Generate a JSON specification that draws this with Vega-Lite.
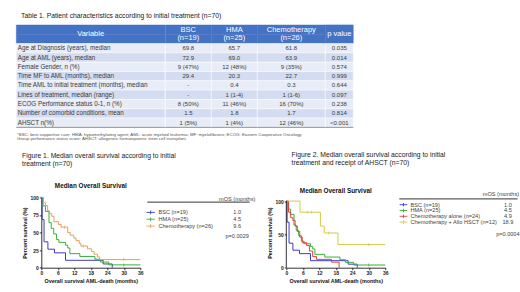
{
 "$schema": "https://vega.github.io/schema/vega-lite/v6.json",
 "background": "#ffffff",
 "padding": {"left": 15.3, "top": 12.9, "right": 0, "bottom": 0},
 "spacing": 10.5,
 "config": {"view": {"stroke": null}, "font": "Liberation Sans", "axis": {"labelOverlap": false, "labelFlush": false, "labelBound": false, "labelSeparation": 0}},
 "datasets": {
  "tbl": [
   {"k":"r1","idx":1,"variable":"Age at Diagnosis (years), median","bsc":"69.8","hma":"65.7","chemo":"61.8","p":"0.035","sig":true},
   {"k":"r2","idx":2,"variable":"Age at AML (years), median","bsc":"72.9","hma":"69.0","chemo":"63.9","p":"0.014","sig":true},
   {"k":"r3","idx":3,"variable":"Female Gender, n (%)","bsc":"9 (47%)","hma":"12 (48%)","chemo":"9 (35%)","p":"0.574","sig":false},
   {"k":"r4","idx":4,"variable":"Time MF to AML (months), median","bsc":"29.4","hma":"20.3","chemo":"22.7","p":"0.999","sig":false},
   {"k":"r5","idx":5,"variable":"Time AML to initial treatment (months), median","bsc":"-","hma":"0.4","chemo":"0.3","p":"0.644","sig":false},
   {"k":"r6","idx":6,"variable":"Lines of treatment, median (range)","bsc":"-","hma":"1 (1-4)","chemo":"1 (1-6)","p":"0.097","sig":false},
   {"k":"r7","idx":7,"variable":"ECOG Performance status 0-1, n (%)","bsc":"8 (50%)","hma":"11 (46%)","chemo":"16 (70%)","p":"0.238","sig":false},
   {"k":"r8","idx":8,"variable":"Number of comorbid conditions, mean","bsc":"1.5","hma":"1.8","chemo":"1.7","p":"0.814","sig":false},
   {"k":"r9","idx":9,"variable":"AHSCT n(%)","bsc":"1 (5%)","hma":"1 (4%)","chemo":"12 (46%)","p":"<0.001","sig":true}
  ],
  "tblhead": [{"k":"h2","kt":"h1","variable":"Variable","bsc":"BSC\n(n=19)","hma":"HMA\n(n=25)","chemo":"Chemotherapy\n(n=26)","p":"p value"}],
  "tblband": [{"k":"h1"},{"k":"h2"}],
  "tblend": [{"k":"r9"}],
  "tblnote": [{"k":"fn","text":"*BSC: best supportive care; HMA: hypomethylating agent; AML: acute myeloid leukemia; MF: myelofibrosis; ECOG: Eastern Cooperative Oncology\nGroup performance status score; AHSCT: allogeneic hematopoietic stem cell transplant."}],
  "km1": [
   {"g":"BSC","t":0,"s":100},{"g":"BSC","t":0.3,"s":68.4},{"g":"BSC","t":1.0,"s":36.8},{"g":"BSC","t":2.4,"s":26.3},{"g":"BSC","t":4.8,"s":21.1},{"g":"BSC","t":8.8,"s":10.5},{"g":"BSC","t":22.5,"s":5.3},{"g":"BSC","t":25.8,"s":0},
   {"g":"HMA","t":0,"s":100},{"g":"HMA","t":0.6,"s":88},{"g":"HMA","t":1.5,"s":80},{"g":"HMA","t":2.8,"s":64},{"g":"HMA","t":3.6,"s":56},{"g":"HMA","t":4.5,"s":48},{"g":"HMA","t":5.5,"s":40},{"g":"HMA","t":6.4,"s":36},{"g":"HMA","t":8.8,"s":32},{"g":"HMA","t":9.6,"s":28},{"g":"HMA","t":10.4,"s":20},{"g":"HMA","t":14,"s":16},{"g":"HMA","t":19.5,"s":12},{"g":"HMA","t":21.5,"s":8},{"g":"HMA","t":24.5,"s":4},{"g":"HMA","t":36,"s":4},
   {"g":"Chemotherapy","t":0,"s":100},{"g":"Chemotherapy","t":0.8,"s":92.3},{"g":"Chemotherapy","t":1.5,"s":88.5},{"g":"Chemotherapy","t":2.3,"s":80.8},{"g":"Chemotherapy","t":3,"s":76.9},{"g":"Chemotherapy","t":3.8,"s":73.1},{"g":"Chemotherapy","t":4.6,"s":65.4},{"g":"Chemotherapy","t":6.2,"s":61.5},{"g":"Chemotherapy","t":7.2,"s":57.7},{"g":"Chemotherapy","t":9.6,"s":50},{"g":"Chemotherapy","t":10.5,"s":46.2},{"g":"Chemotherapy","t":11.8,"s":42.3},{"g":"Chemotherapy","t":12.6,"s":38.5},{"g":"Chemotherapy","t":13.8,"s":34.6},{"g":"Chemotherapy","t":14.4,"s":30.8},{"g":"Chemotherapy","t":16.8,"s":26.9},{"g":"Chemotherapy","t":18.2,"s":23.1},{"g":"Chemotherapy","t":19.2,"s":19.2},{"g":"Chemotherapy","t":20.4,"s":15.4},{"g":"Chemotherapy","t":21.2,"s":11.5},{"g":"Chemotherapy","t":36,"s":11.5}
  ],
  "cens1": [
   {"g":"Chemotherapy","t":8.4,"s":57.7},{"g":"Chemotherapy","t":15.2,"s":30.8},{"g":"Chemotherapy","t":30,"s":11.5},{"g":"HMA","t":30,"s":4}
  ],
  "km2": [
   {"g":"BSC","t":0,"s":100},{"g":"BSC","t":0.3,"s":68.4},{"g":"BSC","t":1.0,"s":36.8},{"g":"BSC","t":2.4,"s":26.3},{"g":"BSC","t":4.8,"s":21.1},{"g":"BSC","t":8.8,"s":10.5},{"g":"BSC","t":22.5,"s":5.3},{"g":"BSC","t":25.8,"s":0},
   {"g":"HMA","t":0,"s":100},{"g":"HMA","t":0.6,"s":88},{"g":"HMA","t":1.5,"s":80},{"g":"HMA","t":2.8,"s":64},{"g":"HMA","t":3.6,"s":56},{"g":"HMA","t":4.5,"s":48},{"g":"HMA","t":5.5,"s":40},{"g":"HMA","t":6.4,"s":36},{"g":"HMA","t":8.8,"s":32},{"g":"HMA","t":9.6,"s":28},{"g":"HMA","t":10.4,"s":20},{"g":"HMA","t":14,"s":16},{"g":"HMA","t":19.5,"s":12},{"g":"HMA","t":21.5,"s":8},{"g":"HMA","t":24.5,"s":4},{"g":"HMA","t":36,"s":4},
   {"g":"Chemotherapy alone","t":0,"s":100},{"g":"Chemotherapy alone","t":0.8,"s":83.3},{"g":"Chemotherapy alone","t":1.6,"s":75},{"g":"Chemotherapy alone","t":2.4,"s":70.8},{"g":"Chemotherapy alone","t":3.2,"s":62.5},{"g":"Chemotherapy alone","t":4,"s":54.2},{"g":"Chemotherapy alone","t":4.9,"s":45.8},{"g":"Chemotherapy alone","t":5.8,"s":37.5},{"g":"Chemotherapy alone","t":7.4,"s":33.3},{"g":"Chemotherapy alone","t":8.4,"s":25},{"g":"Chemotherapy alone","t":9.6,"s":16.7},{"g":"Chemotherapy alone","t":11,"s":12.5},{"g":"Chemotherapy alone","t":16.5,"s":8.3},{"g":"Chemotherapy alone","t":19.2,"s":0},
   {"g":"Chemotherapy + Allo HSCT","t":0,"s":100},{"g":"Chemotherapy + Allo HSCT","t":5,"s":83.3},{"g":"Chemotherapy + Allo HSCT","t":12.4,"s":62.5},{"g":"Chemotherapy + Allo HSCT","t":13.8,"s":52.1},{"g":"Chemotherapy + Allo HSCT","t":18.8,"s":34.7},{"g":"Chemotherapy + Allo HSCT","t":36,"s":34.7}
  ],
  "cens2": [
   {"g":"Chemotherapy + Allo HSCT","t":7.6,"s":83.3},{"g":"Chemotherapy + Allo HSCT","t":9.2,"s":83.3},{"g":"Chemotherapy + Allo HSCT","t":15.4,"s":52.1},{"g":"Chemotherapy + Allo HSCT","t":30,"s":34.7},{"g":"HMA","t":30,"s":4}
  ],
  "leg1": [
   {"g":"BSC","label":"BSC (n=19)","mos":"1.0"},
   {"g":"HMA","label":"HMA (n=25)","mos":"4.5"},
   {"g":"Chemotherapy","label":"Chemotherapy (n=26)","mos":"9.6"}
  ],
  "leg2": [
   {"g":"BSC","label":"BSC (n=19)","mos":"1.0"},
   {"g":"HMA","label":"HMA (n=25)","mos":"4.5"},
   {"g":"Chemotherapy alone","label":"Chemotherapy alone (n=24)","mos":"4.9"},
   {"g":"Chemotherapy + Allo HSCT","label":"Chemotherapy + Allo HSCT (n=12)","mos":"18.9"}
  ]
 },
 "vconcat": [
  {
   "title": {"text": "Table 1. Patient characteristics according to initial treatment (n=70)", "anchor": "start", "frame": "group", "dx": 4.7, "offset": 4.8, "fontSize": 6.8, "fontWeight": "normal", "color": "#1a1a1a", "limit": 1000},
   "spacing": 0,
   "bounds": "flush",
   "hconcat": [
    {
     "width": 148.7, "height": 111.8,
     "layer": [
      {"data":{"name":"tblband"},"mark":{"type":"rect","fill":"#4472C4","stroke":"#4472C4","strokeWidth":0.4},"encoding":{"y":{"field":"k","type":"nominal","scale":{"type":"band","domain":["h1","h2","r1","r2","r3","r4","r5","r6","r7","r8","r9","fn"],"paddingInner":0,"paddingOuter":0},"axis":null}}},
      {"data":{"name":"tbl"},"mark":{"type":"rect","stroke":"#ffffff","strokeWidth":0.5},"encoding":{"y":{"field":"k","type":"nominal","axis":null},"fill":{"condition":{"test":"datum.idx % 2 === 1","value":"#E8ECF6"},"value":"#D3DCF0"}}},
      {"data":{"name":"tblend"},"mark":{"type":"rule","color":"#555555","strokeWidth":0.6},"encoding":{"y":{"field":"k","type":"nominal","axis":null,"bandPosition":1}}},
      {"data":{"name":"tblhead"},"mark":{"type":"text","color":"#ffffff","fontSize":7.5},"encoding":{"y":{"field":"k","type":"nominal","axis":null,"bandPosition":0},"text":{"field":"variable"}}},
      {"data":{"name":"tbl"},"mark":{"type":"text","align":"left","dx":1.4,"fontSize":6.3,"color":"#3a3a3a"},"encoding":{"x":{"datum":"L","type":"nominal","scale":{"type":"point","domain":["L"],"align":0,"padding":0},"axis":null},"y":{"field":"k","type":"nominal","axis":null},"text":{"field":"variable"}}},
      {"data":{"name":"tblnote"},"mark":{"type":"text","align":"left","baseline":"top","dx":0.7,"dy":1,"fontSize":4.4,"lineHeight":4.1,"lineBreak":"\n","color":"#555555"},"encoding":{"x":{"datum":"L","type":"nominal","axis":null},"y":{"field":"k","type":"nominal","axis":null,"bandPosition":0.5},"text":{"field":"text"}}}
     ]
    },
    {
     "width": 46, "height": 111.8,
     "layer": [
      {"data":{"name":"tblband"},"mark":{"type":"rect","fill":"#4472C4","stroke":"#4472C4","strokeWidth":0.4},"encoding":{"y":{"field":"k","type":"nominal","scale":{"type":"band","domain":["h1","h2","r1","r2","r3","r4","r5","r6","r7","r8","r9","fn"],"paddingInner":0,"paddingOuter":0},"axis":null}}},
      {"data":{"name":"tbl"},"mark":{"type":"rect","stroke":"#ffffff","strokeWidth":0.5},"encoding":{"y":{"field":"k","type":"nominal","axis":null},"fill":{"condition":{"test":"datum.idx % 2 === 1","value":"#E8ECF6"},"value":"#D3DCF0"}}},
      {"data":{"name":"tblend"},"mark":{"type":"rule","color":"#555555","strokeWidth":0.6},"encoding":{"y":{"field":"k","type":"nominal","axis":null,"bandPosition":1}}},
      {"data":{"name":"tblhead"},"mark":{"type":"text","color":"#ffffff","fontSize":7.5,"lineBreak":"\n","lineHeight":8.8},"encoding":{"y":{"field":"kt","type":"nominal","axis":null},"text":{"field":"bsc"}}},
      {"data":{"name":"tbl"},"mark":{"type":"text","fontSize":6,"color":"#3a3a3a"},"encoding":{"y":{"field":"k","type":"nominal","axis":null},"text":{"field":"bsc"}}}
     ]
    },
    {
     "width": 46, "height": 111.8,
     "layer": [
      {"data":{"name":"tblband"},"mark":{"type":"rect","fill":"#4472C4","stroke":"#4472C4","strokeWidth":0.4},"encoding":{"y":{"field":"k","type":"nominal","scale":{"type":"band","domain":["h1","h2","r1","r2","r3","r4","r5","r6","r7","r8","r9","fn"],"paddingInner":0,"paddingOuter":0},"axis":null}}},
      {"data":{"name":"tbl"},"mark":{"type":"rect","stroke":"#ffffff","strokeWidth":0.5},"encoding":{"y":{"field":"k","type":"nominal","axis":null},"fill":{"condition":{"test":"datum.idx % 2 === 1","value":"#E8ECF6"},"value":"#D3DCF0"}}},
      {"data":{"name":"tblend"},"mark":{"type":"rule","color":"#555555","strokeWidth":0.6},"encoding":{"y":{"field":"k","type":"nominal","axis":null,"bandPosition":1}}},
      {"data":{"name":"tblhead"},"mark":{"type":"text","color":"#ffffff","fontSize":7.5,"lineBreak":"\n","lineHeight":8.8},"encoding":{"y":{"field":"kt","type":"nominal","axis":null},"text":{"field":"hma"}}},
      {"data":{"name":"tbl"},"mark":{"type":"text","fontSize":6,"color":"#3a3a3a"},"encoding":{"y":{"field":"k","type":"nominal","axis":null},"text":{"field":"hma"}}}
     ]
    },
    {
     "width": 68, "height": 111.8,
     "layer": [
      {"data":{"name":"tblband"},"mark":{"type":"rect","fill":"#4472C4","stroke":"#4472C4","strokeWidth":0.4},"encoding":{"y":{"field":"k","type":"nominal","scale":{"type":"band","domain":["h1","h2","r1","r2","r3","r4","r5","r6","r7","r8","r9","fn"],"paddingInner":0,"paddingOuter":0},"axis":null}}},
      {"data":{"name":"tbl"},"mark":{"type":"rect","stroke":"#ffffff","strokeWidth":0.5},"encoding":{"y":{"field":"k","type":"nominal","axis":null},"fill":{"condition":{"test":"datum.idx % 2 === 1","value":"#E8ECF6"},"value":"#D3DCF0"}}},
      {"data":{"name":"tblend"},"mark":{"type":"rule","color":"#555555","strokeWidth":0.6},"encoding":{"y":{"field":"k","type":"nominal","axis":null,"bandPosition":1}}},
      {"data":{"name":"tblhead"},"mark":{"type":"text","color":"#ffffff","fontSize":7.5,"lineBreak":"\n","lineHeight":8.8},"encoding":{"y":{"field":"kt","type":"nominal","axis":null},"text":{"field":"chemo"}}},
      {"data":{"name":"tbl"},"mark":{"type":"text","fontSize":6,"color":"#3a3a3a"},"encoding":{"y":{"field":"k","type":"nominal","axis":null},"text":{"field":"chemo"},"fontWeight":{"condition":{"test":"datum.k === 'r9'","value":"bold"},"value":"normal"}}}
     ]
    },
    {
     "width": 28, "height": 111.8,
     "layer": [
      {"data":{"name":"tblband"},"mark":{"type":"rect","fill":"#4472C4","stroke":"#4472C4","strokeWidth":0.4},"encoding":{"y":{"field":"k","type":"nominal","scale":{"type":"band","domain":["h1","h2","r1","r2","r3","r4","r5","r6","r7","r8","r9","fn"],"paddingInner":0,"paddingOuter":0},"axis":null}}},
      {"data":{"name":"tbl"},"mark":{"type":"rect","stroke":"#ffffff","strokeWidth":0.5},"encoding":{"y":{"field":"k","type":"nominal","axis":null},"fill":{"condition":{"test":"datum.idx % 2 === 1","value":"#E8ECF6"},"value":"#D3DCF0"}}},
      {"data":{"name":"tblend"},"mark":{"type":"rule","color":"#555555","strokeWidth":0.6},"encoding":{"y":{"field":"k","type":"nominal","axis":null,"bandPosition":1}}},
      {"data":{"name":"tblhead"},"mark":{"type":"text","color":"#ffffff","fontSize":7.5},"encoding":{"y":{"field":"k","type":"nominal","axis":null,"bandPosition":0},"text":{"field":"p"}}},
      {"data":{"name":"tbl"},"mark":{"type":"text","fontSize":6,"color":"#3a3a3a"},"encoding":{"y":{"field":"k","type":"nominal","axis":null},"text":{"field":"p"},"fontWeight":{"condition":{"test":"datum.sig","value":"bold"},"value":"normal"}}}
     ]
    }
   ]
  },
  {
   "spacing": 0,
   "bounds": "flush",
   "hconcat": [
    {
     "width": 24.7, "height": 70.3,
     "title": {"text": ["Figure 1. Median overall survival according to initial", "treatment (n=70)"], "anchor": "start", "frame": "group", "dx": 5.7, "offset": 30, "fontSize": 6.8, "fontWeight": "normal", "lineHeight": 7.8, "color": "#1a1a1a", "limit": 1000},
     "data": {"values": []},
     "mark": "point",
     "encoding": {}
    },
    {
     "width": 99, "height": 70.3,
     "title": {"text": "Median Overall Survival", "fontSize": 6.4, "fontWeight": "bold", "offset": 5.5, "color": "#111111", "anchor": "middle", "frame": "group"},
     "encoding": {
      "x":{"field":"t","type":"quantitative","scale":{"domain":[0,36],"nice":false},"axis":{"values":[0,6,12,18,24,30,36],"title":"Overall survival AML-death (months)","grid":false,"labelFontSize":5,"labelFontWeight":"bold","labelColor":"#222222","titleFontSize":5.4,"titleFontWeight":"bold","titleColor":"#111111","tickSize":2,"tickColor":"#000000","tickWidth":0.8,"domainColor":"#000000","domainWidth":0.8,"labelPadding":1,"titlePadding":2.5,"labelOverlap":false,"labelFlush":false}},
      "y":{"field":"s","type":"quantitative","scale":{"domain":[0,100],"nice":false},"axis":{"values":[0,25,50,75,100],"title":"Percent survival (%)","grid":false,"labelFontSize":5,"labelFontWeight":"bold","labelColor":"#222222","titleFontSize":5.4,"titleFontWeight":"bold","titleColor":"#111111","tickSize":2,"tickColor":"#000000","tickWidth":0.8,"domainColor":"#000000","domainWidth":0.8,"labelPadding":1,"titlePadding":2.5,"labelOverlap":false,"labelFlush":false}},
      "color":{"field":"g","type":"nominal","scale":{"domain":["BSC","HMA","Chemotherapy","Chemotherapy alone","Chemotherapy + Allo HSCT"],"range":["#3b3cc4","#3aae3a","#e89f5a","#e0403c","#cfcb45"]},"legend":null}
     },
     "layer": [
      {"data":{"name":"km1"},"mark":{"type":"line","interpolate":"step-after","strokeWidth":1}},
      {"data":{"name":"cens1"},"mark":{"type":"tick","orient":"vertical","size":3,"thickness":0.7,"opacity":1}}
     ]
    },
    {"width": 6.7, "height": 10, "data": {"values": []}, "mark": "point", "encoding": {}},
    {
     "width": 102.3, "height": 40.28,
     "title": {"text": ["Figure 2. Median overall survival according to initial", "treatment and receipt of AHSCT (n=70)"], "anchor": "end", "align": "left", "frame": "group", "dx": 42, "offset": 30, "fontSize": 6.8, "fontWeight": "normal", "lineHeight": 7.8, "color": "#1a1a1a", "limit": 1000},
     "layer": [
      {"data":{"values":[{"k":"hdr"}]},"mark":{"type":"rule","color":"#000000","strokeWidth":0.8},"encoding":{"y":{"field":"k","type":"nominal","scale":{"type":"point","domain":["htxt","hdr","y2","y3","BSC","y5","HMA","y7","Chemotherapy","y9","y10","p"],"padding":0.378},"axis":null}}},
      {"data":{"name":"leg1"},"mark":{"type":"point","shape":"M-1,0L1,0M0,-0.45L0,0.45","filled":false,"size":70,"strokeWidth":0.9,"opacity":1},"encoding":{"x":{"datum":"sym","type":"nominal","scale":{"type":"point","domain":["sym","lab","c2","c3","c4","c5","c6","c7","c8","c9","c10","val"],"padding":1.807,"align":0.2095},"axis":null},"y":{"field":"g","type":"nominal","axis":null},"color":{"field":"g","type":"nominal","legend":null}}},
      {"data":{"name":"leg1"},"mark":{"type":"text","align":"left","fontSize":5.6,"color":"#444444"},"encoding":{"x":{"datum":"lab","type":"nominal","axis":null},"y":{"field":"g","type":"nominal","axis":null},"text":{"field":"label"}}},
      {"data":{"name":"leg1"},"mark":{"type":"text","align":"center","fontSize":5.6,"color":"#444444"},"encoding":{"x":{"datum":"val","type":"nominal","axis":null},"y":{"field":"g","type":"nominal","axis":null},"text":{"field":"mos"}}},
      {"data":{"values":[{"k":"htxt","t":"mOS (months)"},{"k":"p","t":"p=0.0029"}]},"mark":{"type":"text","align":"center","fontSize":5.6,"color":"#444444"},"encoding":{"x":{"datum":"val","type":"nominal","axis":null},"y":{"field":"k","type":"nominal","axis":null},"text":{"field":"t"}}}
     ]
    },
    {"width": 36, "height": 10, "data": {"values": []}, "mark": "point", "encoding": {}},
    {
     "width": 99, "height": 70.3,
     "title": {"text": "Median Overall Survival", "fontSize": 6.4, "fontWeight": "bold", "offset": 3, "color": "#111111", "anchor": "middle", "frame": "group"},
     "encoding": {
      "x":{"field":"t","type":"quantitative","scale":{"domain":[0,36],"nice":false},"axis":{"values":[0,6,12,18,24,30,36],"title":"Overall survival AML-death (months)","grid":false,"labelFontSize":5,"labelFontWeight":"bold","labelColor":"#222222","titleFontSize":5.4,"titleFontWeight":"bold","titleColor":"#111111","tickSize":2,"tickColor":"#000000","tickWidth":0.8,"domainColor":"#000000","domainWidth":0.8,"labelPadding":1,"titlePadding":2.5,"labelOverlap":false,"labelFlush":false}},
      "y":{"field":"s","type":"quantitative","scale":{"domain":[0,105.56],"nice":false},"axis":{"values":[0,50,100],"title":"Percent survival (%)","grid":false,"domain":false,"labelFontSize":5,"labelFontWeight":"bold","labelColor":"#222222","titleFontSize":5.4,"titleFontWeight":"bold","titleColor":"#111111","tickSize":2,"tickColor":"#000000","tickWidth":0.8,"labelPadding":1,"titlePadding":2.5,"labelOverlap":false,"labelFlush":false}},
      "color":{"field":"g","type":"nominal","legend":null}
     },
     "layer": [
      {"data":{"name":"km2"},"mark":{"type":"line","interpolate":"step-after","strokeWidth":1}},
      {"data":{"name":"cens2"},"mark":{"type":"tick","orient":"vertical","size":3,"thickness":0.7,"opacity":1}},
      {"data":{"values":[{"t":0,"s":0,"s2":100}]},"mark":{"type":"rule","color":"#000000","strokeWidth":0.8},"encoding":{"color":{"value":"#000000"},"y2":{"field":"s2"}}}
     ]
    },
    {"width": 13.7, "height": 10, "data": {"values": []}, "mark": "point", "encoding": {}},
    {
     "width": 118.3, "height": 37.8,
     "layer": [
      {"data":{"values":[{"k":"hdr"}]},"mark":{"type":"rule","color":"#000000","strokeWidth":0.8},"encoding":{"y":{"field":"k","type":"nominal","scale":{"type":"point","domain":["hdr","y1","BSC","y3","HMA","y5","Chemotherapy alone","y7","Chemotherapy + Allo HSCT","y9","y10","y11","p"],"padding":0.517},"axis":null}}},
      {"data":{"name":"leg2"},"mark":{"type":"point","shape":"M-1,0L1,0M0,-0.45L0,0.45","filled":false,"size":60,"strokeWidth":0.9,"opacity":1},"encoding":{"x":{"datum":"sym","type":"nominal","scale":{"type":"point","domain":["sym","lab","c2","c3","c4","c5","c6","c7","c8","c9","c10","c11","c12","c13","hc","val"],"padding":1.032,"align":0.3007},"axis":null},"y":{"field":"g","type":"nominal","axis":null},"color":{"field":"g","type":"nominal","legend":null}}},
      {"data":{"name":"leg2"},"mark":{"type":"text","align":"left","fontSize":5.6,"color":"#444444"},"encoding":{"x":{"datum":"lab","type":"nominal","axis":null},"y":{"field":"g","type":"nominal","axis":null},"text":{"field":"label"}}},
      {"data":{"name":"leg2"},"mark":{"type":"text","align":"center","fontSize":5.6,"color":"#444444"},"encoding":{"x":{"datum":"val","type":"nominal","axis":null},"y":{"field":"g","type":"nominal","axis":null},"text":{"field":"mos"}}},
      {"data":{"values":[{"k":"hdr","t":"mOS (months)"}]},"mark":{"type":"text","align":"center","baseline":"bottom","dy":-1.5,"fontSize":5.6,"color":"#444444"},"encoding":{"x":{"datum":"hc","type":"nominal","axis":null},"y":{"field":"k","type":"nominal","axis":null},"text":{"field":"t"}}},
      {"data":{"values":[{"k":"p","t":"p=0.0004"}]},"mark":{"type":"text","align":"center","fontSize":5.6,"color":"#444444"},"encoding":{"x":{"datum":"val","type":"nominal","axis":null},"y":{"field":"k","type":"nominal","axis":null},"text":{"field":"t"}}}
     ]
    }
   ]
  }
 ]
}
